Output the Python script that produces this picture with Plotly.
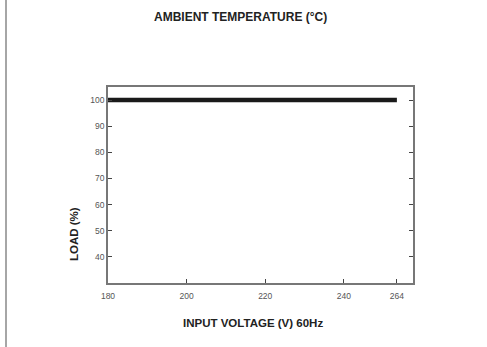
import numpy as np
import plotly.graph_objects as go

# Data
voltage = [180, 264]
load = [100, 100]

x_tick_labels = ["180", "200", "220", "240", "264"]
x_tick_values = [180, 200, 220, 240, 264]
# the source chart draws its 264 tick compressed next to 240
x_tick_positions = [180, 200, 220, 240, 253.5]
y_tick_values = [40, 50, 60, 70, 80, 90, 100]

W, H = 487, 347
L, R, T, B = 108, 74, 87, 64
PW, PH = W - L - R, H - T - B


def px(x):
    return (x - L) / PW


def py(y):
    return (H - B - y) / PH


x_pos = np.interp(voltage, x_tick_values, x_tick_positions)

fig = go.Figure()
fig.add_trace(go.Scatter(x=x_pos, y=load, mode="lines",
                         line=dict(color="#1a1a1a", width=4.5),
                         showlegend=False, hoverinfo="skip"))

tickfont = dict(family="Liberation Sans, Arial, sans-serif", size=8.5, color="#555")
titlefont = dict(family="Liberation Sans, Arial, sans-serif", size=11.5, color="#222")
fig.update_layout(
    width=W, height=H,
    margin=dict(l=L, r=R, t=T, b=B),
    paper_bgcolor="white", plot_bgcolor="white",
    font=dict(family="Liberation Sans, Arial, sans-serif", color="#222"),
    xaxis=dict(range=[180, 257.6], tickvals=x_tick_positions, ticktext=x_tick_labels,
               ticks="inside", ticklen=4, tickcolor="#444", tickwidth=1,
               showline=True, linecolor="#777", linewidth=1.5, mirror=True,
               showgrid=False, zeroline=False, tickfont=tickfont, ticklabelstandoff=4),
    yaxis=dict(range=[30, 105], tickvals=y_tick_values,
               ticks="inside", ticklen=4, tickcolor="#444", tickwidth=1,
               showline=True, linecolor="#777", linewidth=1.5, mirror="ticks",
               showgrid=False, zeroline=False, tickfont=tickfont),
    annotations=[
        dict(text="<b>AMBIENT TEMPERATURE (°C)</b>", xref="paper", yref="paper",
             x=px(240), y=py(17), xanchor="center", yanchor="middle", showarrow=False,
             font=dict(family="Liberation Sans, Arial, sans-serif", size=12, color="#222")),
        dict(text="<b>INPUT VOLTAGE (V) 60Hz</b>", xref="paper", yref="paper",
             x=px(252.5), y=py(323), xanchor="center", yanchor="middle", showarrow=False,
             font=titlefont),
        dict(text="<b>LOAD (%)</b>", xref="paper", yref="paper", textangle=-90,
             x=px(74), y=py(234), xanchor="center", yanchor="middle", showarrow=False,
             font=titlefont),
    ],
    shapes=[dict(type="line", xref="paper", yref="paper",
                 x0=px(6), x1=px(6), y0=py(H + 10), y1=py(-10),
                 line=dict(color="#888", width=1.5))],
)

fig.write_html("out.html", config={"displayModeBar": False},
               post_script="document.body.style.margin='0';document.body.style.overflow='hidden';")
